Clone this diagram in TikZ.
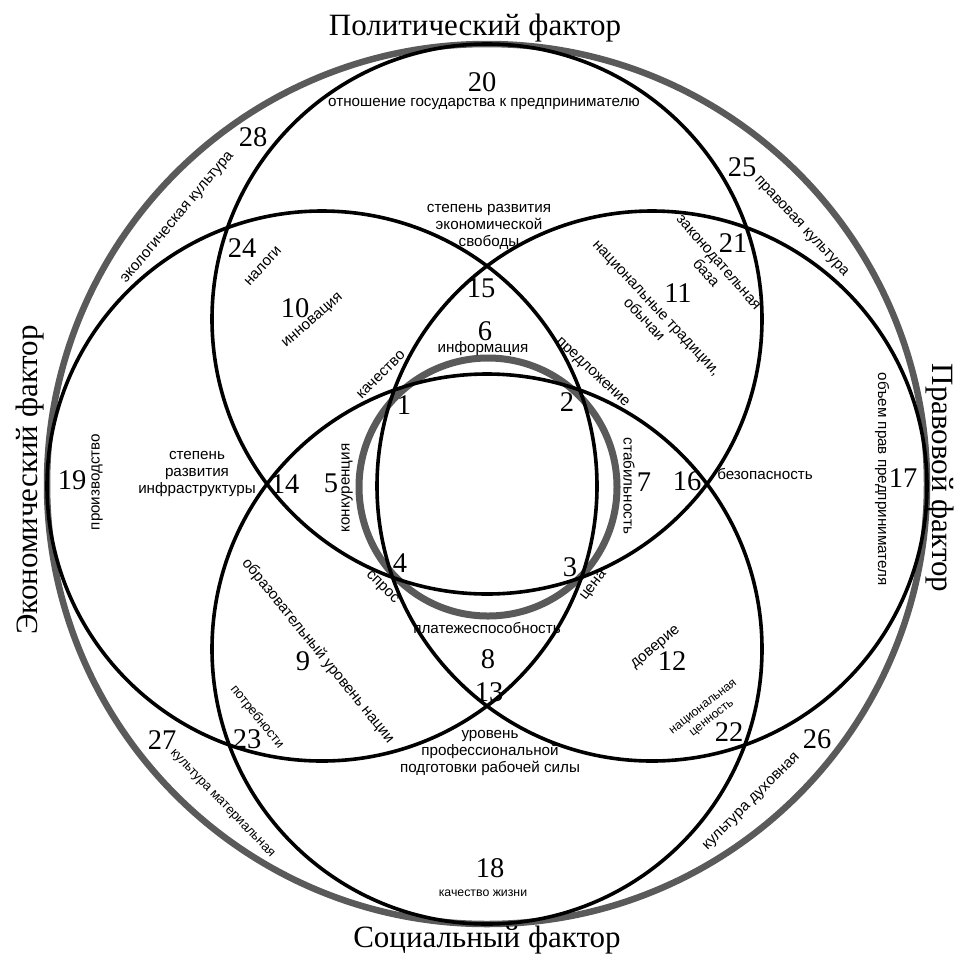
\documentclass[tikz,border=0pt]{standalone}
\usepackage{fontspec}
\setmainfont{Liberation Serif}
\setsansfont{Liberation Sans}
\usetikzlibrary{positioning}
\definecolor{RingGray}{HTML}{5A5A5A}

\begin{document}
\begin{tikzpicture}[
      x=1pt, y=-1pt,
      ring/.style={circle, draw=black, line width=3.6pt, minimum size=550pt, inner sep=0pt},
      halo/.style={circle, draw=RingGray, line width=6.5pt, inner sep=0pt},
      num/.style={font=\fontsize{28.5}{28.5}\selectfont, inner sep=0pt},
      title/.style={font=\fontsize{31}{31}\selectfont, inner sep=0pt, anchor=base},
      lbl/.style={font=\sffamily\fontsize{15.2}{17}\selectfont, align=center, inner sep=0pt},
      small/.style={font=\sffamily\fontsize{13.2}{15}\selectfont, align=center, inner sep=0pt},
      tiny/.style={font=\sffamily\fontsize{12.3}{14}\selectfont, align=center, inner sep=0pt}
  ]
    \useasboundingbox (0,0) rectangle (963,954);
    % gray rings first, black circles on top
    \node[halo, minimum size=880pt](outer) at (487,484){};
    \node[halo, line width=7pt, minimum size=258pt](core) at (488,487){};
    \node[ring](polit) at (487,319){};
    \node[ring](social) at (487,649){};
    \node[ring](econ) at (322,486){};
    \node[ring](legal) at (652,486){};

    % factors
    \node[title](tp) at (475,35){Политический фактор};
    \node[title](ts) at (487,947){Социальный фактор};
    \node[title, rotate=90](te) at (37,480){Экономический фактор};
    \node[title, rotate=-90](tl) at (932,478){Правовой фактор};

    % zone numbers
    \node[num](n1) at (404,405){1};    \node[num](n2) at (567,402){2};
    \node[num](n3) at (570,567){3};    \node[num](n4) at (400,563){4};
    \node[num](n5) at (331,483){5};    \node[num](n6) at (485,331){6};
    \node[num](n7) at (644,482){7};    \node[num](n8) at (488,659){8};
    \node[num](n9) at (303,661){9};    \node[num](n10) at (295,308){10};
    \node[num](n11) at (678,293){11};  \node[num](n12) at (672,661){12};
    \node[num](n13) at (489,692){13};  \node[num](n14) at (285,484){14};
    \node[num](n15) at (481,288){15};  \node[num](n16) at (687,481){16};
    \node[num](n17) at (903,478){17};  \node[num](n18) at (490,868){18};
    \node[num](n19) at (72,480){19};   \node[num](n20) at (482,82){20};
    \node[num](n21) at (733,243){21};  \node[num](n22) at (729,732){22};
    \node[num](n23) at (247,739){23};  \node[num](n24) at (242,248){24};
    \node[num](n25) at (742,167){25};  \node[num](n26) at (817,739){26};
    \node[num](n27) at (162,740){27};  \node[num](n28) at (253,137){28};

    % zone texts
    \node[lbl](d20) at (484,104){отношение государства к предпринимателю};
    \node[lbl](d15) at (489,227){степень развития\\экономической\\свободы};
    \node[lbl](d6) at (483,349){информация};
    \node[lbl, rotate=48](d24) at (263,266){налоги};
    \node[lbl, rotate=41](d10) at (313,321){инновация};
    \node[lbl, rotate=50](d28) at (178,218){экологическая культура};
    \node[lbl, rotate=-47](d25) at (801,227){правовая культура};
    \node[lbl, rotate=-49](d21) at (712,268){законодательная\\база};
    \node[lbl, rotate=-47](d11) at (650,314){национальные традиции,\\обычаи};
    \node[lbl, rotate=-43](d2) at (592,373){предложение};
    \node[lbl, rotate=45](d1) at (381,375){качество};
    \node[lbl](d14) at (197,474){степень\\развития\\инфраструктуры};
    \node[lbl, rotate=90](d19) at (97,482){производство};
    \node[lbl, rotate=90](d5) at (347,488){конкуренция};
    \node[lbl, rotate=-45](d4) at (382,588){спрос};
    \node[lbl, rotate=-90](d7) at (629,486){стабильность};
    \node[lbl](d16) at (765,474){безопасность};
    \node[lbl, rotate=-90](d17) at (882,479){объем прав предпринимателя};
    \node[lbl, rotate=52](d3) at (594,586){цена};
    \node[lbl](d8) at (487,628){платежеспособность};
    \node[lbl, rotate=-51](d9) at (318,651){образовательный уровень нации};
    \node[small, rotate=-51](d23) at (257,717){потребности};
    \node[small, rotate=-46](d27) at (222,804){культура материальная};
    \node[lbl](d13) at (490,753){уровень\\профессиональной\\подготовки рабочей силы};
    \node[lbl, rotate=40](d12) at (656,648){доверие};
    \node[tiny, rotate=38](d22) at (708,713){национальная\\ценность};
    \node[lbl, rotate=45](d26) at (752,802){культура духовная};
    \node[tiny](d18) at (483,893){качество жизни};
  \end{tikzpicture}
\end{document}
